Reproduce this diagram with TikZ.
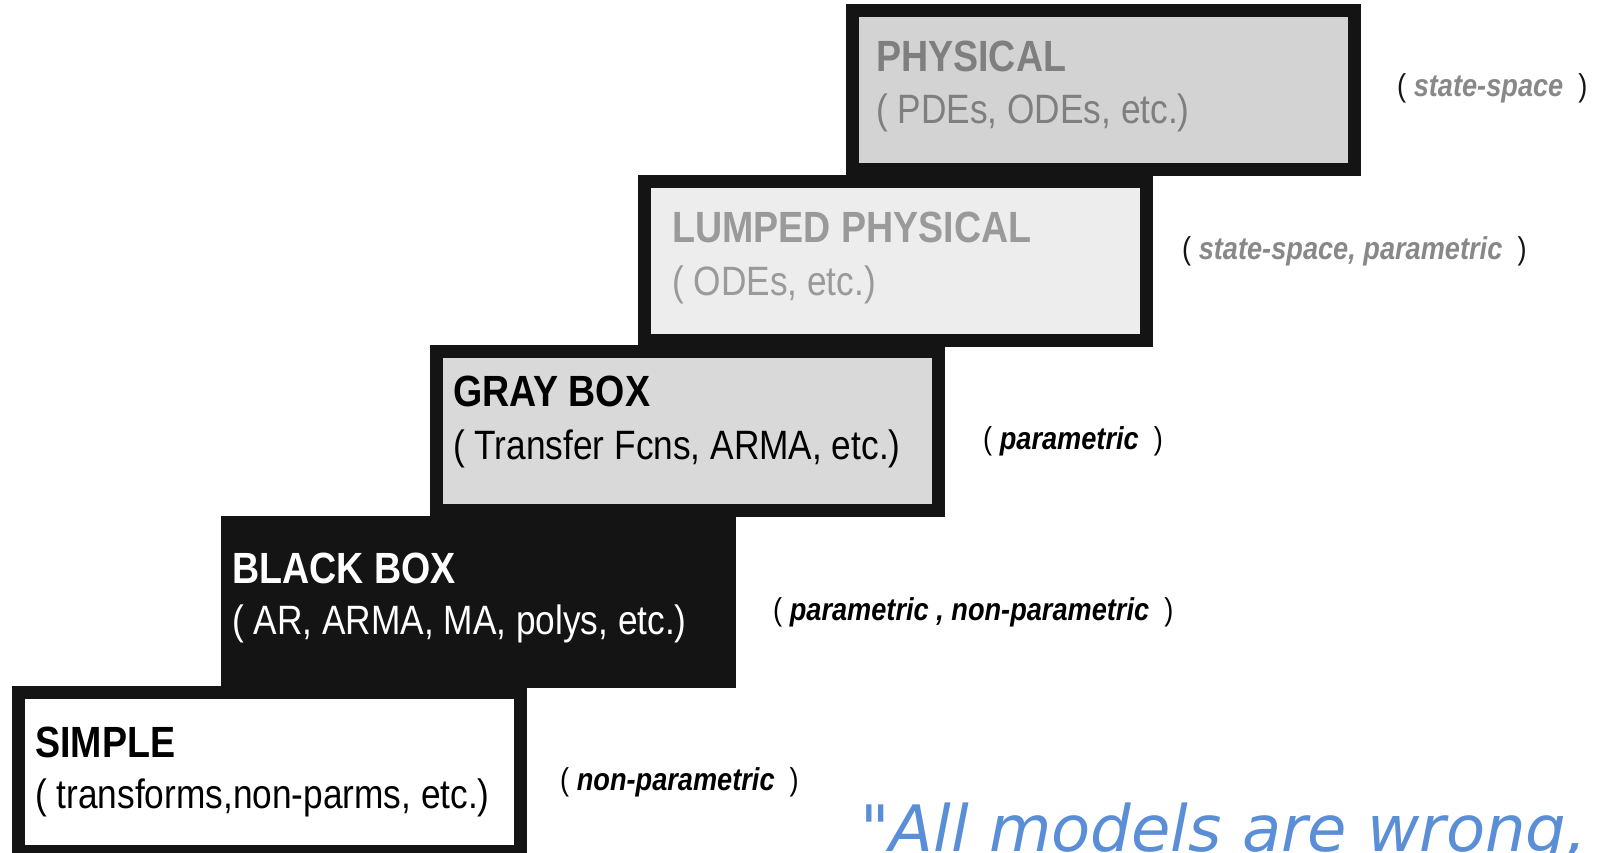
\documentclass[tikz,border=0pt]{standalone}
\usepackage{fontspec}
\setmainfont{Liberation Sans}[FakeStretch=0.86]
\newfontfamily\quotefont{DejaVu Sans}
\definecolor{bordercol}{HTML}{141414}
\definecolor{physfill}{HTML}{D3D3D3}
\definecolor{lumpfill}{HTML}{EDEDED}
\definecolor{grayfill}{HTML}{D9D9D9}
\definecolor{phystext}{HTML}{7F7F7F}
\definecolor{lumptext}{HTML}{9A9A9A}
\definecolor{labgray}{HTML}{888888}
\definecolor{quoteblue}{HTML}{5A8FD8}
\tikzset{
  stairbox/.style={draw=bordercol, line width=13pt, minimum width=502pt, minimum height=159pt, inner sep=0pt},
  titletxt/.style={anchor=base west, inner sep=0pt, font=\fontsize{43.7}{50}\selectfont\bfseries},
  subtxt/.style={anchor=base west, inner sep=0pt, font=\fontsize{41}{48}\selectfont},
  sidetxt/.style={anchor=base west, inner sep=0pt, font=\fontsize{31.6}{36}\selectfont},
}
\newcommand{\sidew}[1]{{\bfseries\itshape #1}}
\begin{document}
\begin{tikzpicture}[x=1pt,y=-1pt]
\useasboundingbox (0,0) rectangle (1609,853);
\clip (0,0) rectangle (1609,853);
\fill[white] (0,0) rectangle (1609,853);
% boxes
\node (phys) [stairbox, fill=physfill] at (1103,90.4) {};
\node (lump) [stairbox, fill=lumpfill] at (895.75,260.8) {};
\node (gray) [stairbox, fill=grayfill] at (687,431.2) {};
\node (black) [stairbox, fill=bordercol] at (478.25,601.6) {};
\node (simple) [stairbox, fill=white] at (269.5,772) {};
% box texts
\node (physT) [titletxt, text=phystext] at (876,72) {PHYSICAL};
\node (physS) [subtxt, text=phystext] at (876,124) {( PDEs, ODEs, etc.)};
\node (lumpT) [titletxt, text=lumptext] at (672,243) {LUMPED PHYSICAL};
\node (lumpS) [subtxt, text=lumptext] at (672,295) {( ODEs, etc.)};
\node (grayT) [titletxt, text=black] at (453,406) {GRAY BOX};
\node (grayS) [subtxt, text=black] at (453,459) {( Transfer Fcns, ARMA, etc.)};
\node (blackT) [titletxt, text=white] at (232,583) {BLACK BOX};
\node (blackS) [subtxt, text=white] at (232,634) {( AR, ARMA, MA, polys, etc.)};
\node (simpleT) [titletxt, text=black] at (35,757) {SIMPLE};
\node (simpleS) [subtxt, text=black] at (35,808) {( transforms,non-parms, etc.)};
% side labels
\node (physL) [sidetxt, text=bordercol] at (1397,97) {( \textcolor{labgray}{\sidew{state-space}}\ \ )};
\node (lumpL) [sidetxt, text=bordercol] at (1182,259) {( \textcolor{labgray}{\sidew{state-space, parametric}}\ \ )};
\node (grayL) [sidetxt, text=black] at (983,449) {( \sidew{parametric}\ \ )};
\node (blackL) [sidetxt, text=black] at (773,620) {( \sidew{parametric , non-parametric}\ \ )};
\node (simpleL) [sidetxt, text=black] at (560,790) {( \sidew{non-parametric}\ \ )};
% quote
\node (quote) [anchor=base west, inner sep=0pt, text=quoteblue, font=\fontsize{64}{70}\selectfont\quotefont\itshape] at (860,851) {"All models are wrong,};
\end{tikzpicture}
\end{document}
